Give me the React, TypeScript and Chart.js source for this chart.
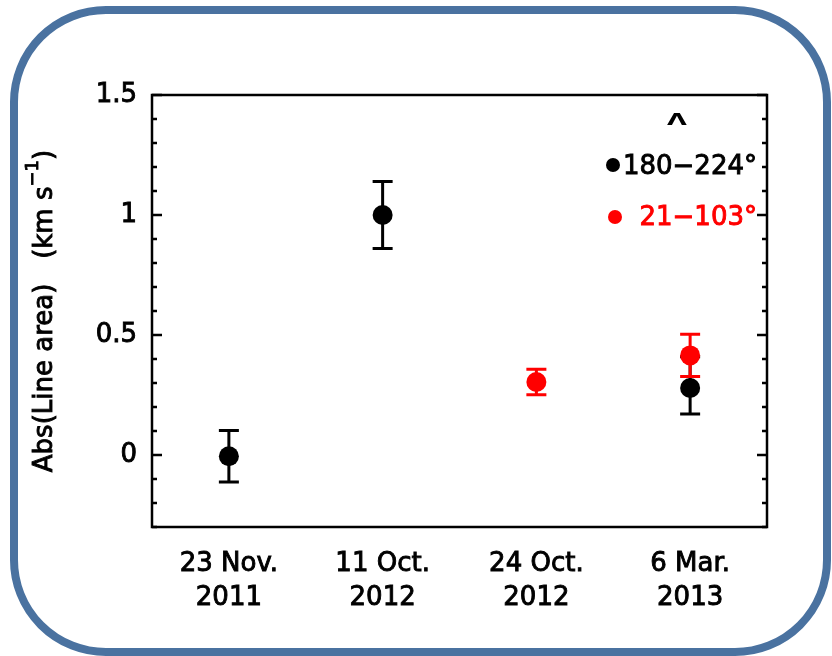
import { useEffect, useRef } from "react";
import { Chart, registerables } from "chart.js";

Chart.register(...registerables);

// Observation dates (two-line tick labels), placed at x = 1..4
const categories: string[][] = [
  ["23 Nov.", "2011"],
  ["11 Oct.", "2012"],
  ["24 Oct.", "2012"],
  ["6 Mar.", "2013"],
];

// Major y tick values and minor tick step
const yTicks = [0, 0.5, 1, 1.5];
const yMinorStep = 0.1;

// Position-angle range 180–224°
const blackLabel = "180−224°";
const blackSlots = [1, 2, 4];
const blackValues = [-0.005, 1.0, 0.279];
const blackErrUp = [0.107, 0.14, 0.13];
const blackErrDown = [0.107, 0.14, 0.108];

// Position-angle range 21–103°
const redLabel = "21−103°";
const redSlots = [3, 4];
const redValues = [0.304, 0.415];
const redErrUp = [0.053, 0.088];
const redErrDown = [0.053, 0.088];

const FONT = '"DejaVu Sans", "Liberation Sans", sans-serif';
const RED = "#ff0000";
const BLACK = "#000000";
const TEXT_STROKE = 0.9;

const errorBarPlugin = {
  id: "errorBars",
  beforeDatasetDraw(chart: any, args: any) {
    const ds = chart.data.datasets[args.index];
    const up: number[] = ds.errUp || [];
    const down: number[] = ds.errDown || [];
    const meta = chart.getDatasetMeta(args.index);
    const ys = chart.scales.y;
    const ctx = chart.ctx;
    ctx.save();
    ctx.strokeStyle = ds.backgroundColor;
    ctx.lineWidth = 3;
    meta.data.forEach((el: any, i: number) => {
      const v = ds.data[i].y;
      const top = ys.getPixelForValue(v + up[i]);
      const bot = ys.getPixelForValue(v - down[i]);
      const cap = 10;
      ctx.beginPath();
      ctx.moveTo(el.x, top);
      ctx.lineTo(el.x, bot);
      ctx.moveTo(el.x - cap, top);
      ctx.lineTo(el.x + cap, top);
      ctx.moveTo(el.x - cap, bot);
      ctx.lineTo(el.x + cap, bot);
      ctx.stroke();
    });
    ctx.restore();
  },
};

function boldText(ctx: CanvasRenderingContext2D, s: string, x: number, y: number) {
  ctx.lineWidth = TEXT_STROKE;
  ctx.strokeStyle = ctx.fillStyle as string;
  ctx.strokeText(s, x, y);
  ctx.fillText(s, x, y);
}

const decorPlugin = {
  id: "decor",
  beforeDraw(chart: any) {
    const ctx = chart.ctx;
    ctx.save();
    ctx.fillStyle = "#ffffff";
    ctx.fillRect(0, 0, chart.width, chart.height);
    // rounded panel outline
    ctx.strokeStyle = "#4a72a0";
    ctx.lineWidth = 8;
    ctx.beginPath();
    ctx.roundRect(14, 10, 813, 642, 92);
    ctx.stroke();
    ctx.restore();
  },
  afterDraw(chart: any) {
    const ctx = chart.ctx;
    const { left, right, top, bottom } = chart.chartArea;
    const ys = chart.scales.y;
    ctx.save();
    // plot frame
    ctx.strokeStyle = BLACK;
    ctx.lineWidth = 2.5;
    ctx.strokeRect(left, top, right - left, bottom - top);

    // inward ticks on left and right axes
    const steps = Math.round((ys.max - ys.min) / yMinorStep);
    for (let k = 0; k <= steps; k++) {
      const val = Math.round((ys.min + k * yMinorStep) * 10) / 10;
      const py = ys.getPixelForValue(val);
      const len = yTicks.includes(val) ? 10 : 5;
      ctx.beginPath();
      ctx.moveTo(left, py);
      ctx.lineTo(left + len, py);
      ctx.moveTo(right, py);
      ctx.lineTo(right - len, py);
      ctx.stroke();
    }

    // y-axis title with superscript unit
    ctx.translate(45, 311);
    ctx.rotate(-Math.PI / 2);
    ctx.fillStyle = BLACK;
    ctx.textBaseline = "middle";
    ctx.textAlign = "left";
    const main = "Abs(Line area)   (km s";
    const sup = "−1";
    const tail = ")";
    ctx.font = `26px ${FONT}`;
    const wMain = ctx.measureText(main).width;
    const wTail = ctx.measureText(tail).width;
    ctx.font = `18px ${FONT}`;
    const wSup = ctx.measureText(sup).width;
    let x0 = -(wMain + wSup + wTail) / 2;
    ctx.font = `26px ${FONT}`;
    boldText(ctx, main, x0, 0);
    x0 += wMain;
    ctx.font = `18px ${FONT}`;
    boldText(ctx, sup, x0, -12);
    x0 += wSup;
    ctx.font = `26px ${FONT}`;
    boldText(ctx, tail, x0, 0);
    ctx.setTransform(1, 0, 0, 1, 0, 0);

    // legend
    ctx.textBaseline = "middle";
    ctx.fillStyle = BLACK;
    ctx.save();
    ctx.translate(right - 90, top + 26);
    ctx.scale(1.35, 0.8);
    ctx.font = `bold 19px ${FONT}`;
    ctx.textAlign = "center";
    ctx.fillText("Λ", 0, 0);
    ctx.restore();

    ctx.font = `26px ${FONT}`;
    ctx.textAlign = "right";
    const textRight = right - 10;

    ctx.fillStyle = BLACK;
    ctx.beginPath();
    ctx.arc(right - 154, top + 70, 7, 0, Math.PI * 2);
    ctx.fill();
    boldText(ctx, blackLabel, textRight, top + 72);

    ctx.fillStyle = RED;
    ctx.beginPath();
    ctx.arc(right - 152, top + 122, 7, 0, Math.PI * 2);
    ctx.fill();
    boldText(ctx, redLabel, textRight, top + 123);
    ctx.restore();
  },
};

export default function App() {
  const ref = useRef<HTMLCanvasElement | null>(null);

  useEffect(() => {
    if (!ref.current) return;
    const chart = new Chart(ref.current, {
      type: "scatter",
      data: {
        datasets: [
          {
            label: blackLabel,
            data: blackSlots.map((s, i) => ({ x: s, y: blackValues[i] })),
            errUp: blackErrUp,
            errDown: blackErrDown,
            backgroundColor: BLACK,
            borderColor: BLACK,
            borderWidth: 0,
            pointRadius: 10,
            pointHoverRadius: 10,
            order: 1,
          } as any,
          {
            label: redLabel,
            data: redSlots.map((s, i) => ({ x: s, y: redValues[i] })),
            errUp: redErrUp,
            errDown: redErrDown,
            backgroundColor: RED,
            borderColor: RED,
            borderWidth: 0,
            pointRadius: 10,
            pointHoverRadius: 10,
            order: 0,
          } as any,
        ],
      },
      options: {
        responsive: false,
        animation: false,
        devicePixelRatio: 1,
        layout: { padding: { left: 0, right: 65, top: 95, bottom: 0 } },
        plugins: {
          legend: { display: false },
          tooltip: { enabled: false },
        },
        events: [],
        scales: {
          x: {
            type: "linear",
            min: 0.5,
            max: 4.5,
            afterBuildTicks: (s: any) => {
              s.ticks = categories.map((_, i) => ({ value: i + 1 }));
            },
            afterFit: (s: any) => {
              s.height = 129;
            },
            ticks: {
              callback: (v: any) => categories[Number(v) - 1] || "",
              font: { family: FONT, size: 26, lineHeight: 1.28 },
              color: BLACK,
              textStrokeColor: BLACK,
              textStrokeWidth: TEXT_STROKE,
              padding: 21,
              maxRotation: 0,
              autoSkip: false,
            },
            grid: { display: false, drawTicks: false },
            border: { display: false },
          },
          y: {
            type: "linear",
            min: -0.3,
            max: 1.5,
            afterBuildTicks: (s: any) => {
              s.ticks = yTicks.map((v) => ({ value: v }));
            },
            afterFit: (s: any) => {
              s.width = 152;
            },
            ticks: {
              callback: (v: any) => String(v),
              font: { family: FONT, size: 26 },
              color: BLACK,
              textStrokeColor: BLACK,
              textStrokeWidth: TEXT_STROKE,
              padding: 15,
            },
            grid: { display: false, drawTicks: false },
            border: { display: false },
          },
        },
      } as any,
      plugins: [decorPlugin, errorBarPlugin],
    });
    return () => chart.destroy();
  }, []);

  return (
    <div style={{ position: "absolute", left: 0, top: 0, width: 832, height: 656 }}>
      <canvas ref={ref} width={832} height={656} style={{ display: "block" }} />
    </div>
  );
}
